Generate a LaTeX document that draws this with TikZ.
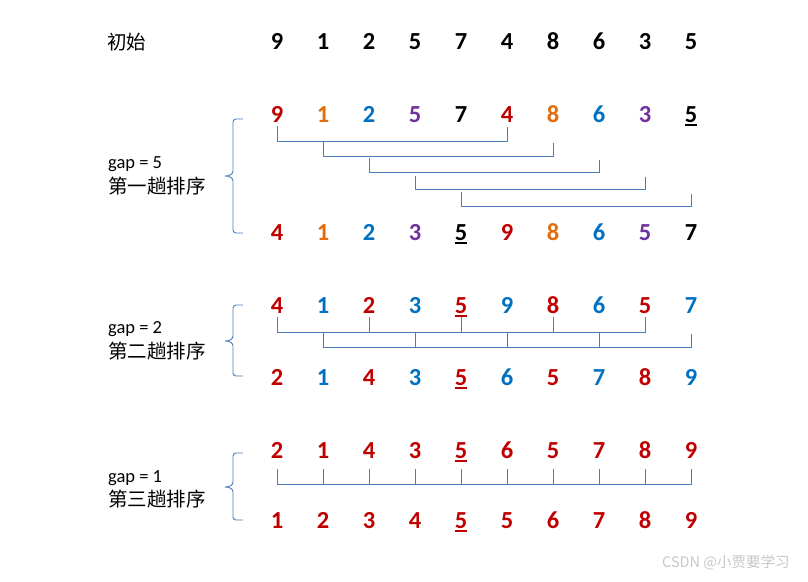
\documentclass[tikz,border=0pt]{standalone}
\usepackage{fontspec}
\setmainfont{Carlito}
\newfontfamily\cjk{Noto Sans CJK SC}
\definecolor{cR}{HTML}{C00000}
\definecolor{cO}{HTML}{E46C0A}
\definecolor{cB}{HTML}{0070C0}
\definecolor{cP}{HTML}{7030A0}
\definecolor{cK}{HTML}{000000}
\definecolor{conncol}{HTML}{4A7EBB}
\tikzset{
  dig/.style={anchor=base, inner sep=0pt, font=\bfseries\fontsize{24.5}{24.5}\selectfont},
  cjklab/.style={anchor=west, inner sep=0pt, font=\cjk\fontsize{19.5}{19.5}\selectfont},
  gaplab/.style={anchor=base west, inner sep=0pt, font=\fontsize{18.5}{18.5}\selectfont},
  conn/.style={draw=conncol, line width=0.9pt},
  brace/.style={draw=conncol, line width=0.9pt},
  ul/.style={line width=1.8pt},
}
\begin{document}
\begin{tikzpicture}[x=1pt,y=-1pt]
\useasboundingbox (0,0) rectangle (808,581);
% rows of digits
\foreach \d/\c [count=\i from 0] in {9/K,1/K,2/K,5/K,7/K,4/K,8/K,6/K,3/K,5/K}
  \node[dig, text=c\c] (r0c\i) at (277+46*\i,49.5) {\d};
\foreach \d/\c [count=\i from 0] in {9/R,1/O,2/B,5/P,7/K,4/R,8/O,6/B,3/P,5/K}
  \node[dig, text=c\c] (r1c\i) at (277+46*\i,122) {\d};
\foreach \d/\c [count=\i from 0] in {4/R,1/O,2/B,3/P,5/K,9/R,8/O,6/B,5/P,7/K}
  \node[dig, text=c\c] (r2c\i) at (277+46*\i,240) {\d};
\foreach \d/\c [count=\i from 0] in {4/R,1/B,2/R,3/B,5/R,9/B,8/R,6/B,5/R,7/B}
  \node[dig, text=c\c] (r3c\i) at (277+46*\i,313) {\d};
\foreach \d/\c [count=\i from 0] in {2/R,1/B,4/R,3/B,5/R,6/B,5/R,7/B,8/R,9/B}
  \node[dig, text=c\c] (r4c\i) at (277+46*\i,385) {\d};
\foreach \d/\c [count=\i from 0] in {2/R,1/R,4/R,3/R,5/R,6/R,5/R,7/R,8/R,9/R}
  \node[dig, text=c\c] (r5c\i) at (277+46*\i,458) {\d};
\foreach \d/\c [count=\i from 0] in {1/R,2/R,3/R,4/R,5/R,5/R,6/R,7/R,8/R,9/R}
  \node[dig, text=c\c] (r6c\i) at (277+46*\i,528) {\d};
% underlines
\draw[ul, cK] ([yshift=-3pt]r1c9.base west) -- ([yshift=-3pt]r1c9.base east);
\draw[ul, cK] ([yshift=-3pt]r2c4.base west) -- ([yshift=-3pt]r2c4.base east);
\draw[ul, cR] ([yshift=-3pt]r3c4.base west) -- ([yshift=-3pt]r3c4.base east);
\draw[ul, cR] ([yshift=-3pt]r4c4.base west) -- ([yshift=-3pt]r4c4.base east);
\draw[ul, cR] ([yshift=-3pt]r5c4.base west) -- ([yshift=-3pt]r5c4.base east);
\draw[ul, cR] ([yshift=-3pt]r6c4.base west) -- ([yshift=-3pt]r6c4.base east);
% labels
\node[cjklab] (lab0) at (107,42) {初始};
\node[gaplab] (gap5) at (108,168) {gap = 5};
\node[cjklab] (pass1) at (108,186.5) {第一趟排序};
\node[gaplab] (gap2) at (108,333.5) {gap = 2};
\node[cjklab] (pass2) at (108,351.5) {第二趟排序};
\node[gaplab] (gap1) at (108,482) {gap = 1};
\node[cjklab] (pass3) at (108,499) {第三趟排序};
% gap 5 connectors
\draw[conn] (r1c0 |- 0,126) |- (r1c5 |- 0,141) -- (r1c5 |- 0,127);
\draw[conn] (r1c1 |- 0,141.5) |- (r1c6 |- 0,156) -- (r1c6 |- 0,143);
\draw[conn] (r1c2 |- 0,158) |- (r1c7 |- 0,172) -- (r1c7 |- 0,160);
\draw[conn] (r1c3 |- 0,176) |- (r1c8 |- 0,189) -- (r1c8 |- 0,177);
\draw[conn] (r1c4 |- 0,192) |- (r1c9 |- 0,206) -- (r1c9 |- 0,194);
% gap 2 connectors
\draw[conn] (r3c0 |- 0,317) |- (r3c8 |- 0,332) -- (r3c8 |- 0,317);
\foreach \i in {2,4,6}
  \draw[conn] (r3c\i |- 0,317) -- (r3c\i |- 0,332);
\draw[conn] (r3c1 |- 0,332) |- (r3c9 |- 0,347) -- (r3c9 |- 0,334);
\foreach \i in {3,5,7}
  \draw[conn] (r3c\i |- 0,332) -- (r3c\i |- 0,347);
% gap 1 connectors
\draw[conn] (r5c0 |- 0,469) |- (r5c9 |- 0,484) -- (r5c9 |- 0,469);
\foreach \i in {1,...,8}
  \draw[conn] (r5c\i |- 0,469) -- (r5c\i |- 0,484);
% braces
\draw[brace] (243,119) -- (236,119) to[out=180,in=90] (233,122) -- (233,171)
  to[out=-90,in=0] (225,176) to[out=0,in=90] (233,181) -- (233,230)
  to[out=-90,in=180] (236,233) -- (243,233);
\draw[brace] (243,305) -- (236,305) to[out=180,in=90] (233,308) -- (233,336)
  to[out=-90,in=0] (225,341) to[out=0,in=90] (233,346) -- (233,373)
  to[out=-90,in=180] (236,376) -- (243,376);
\draw[brace] (243,453) -- (236,453) to[out=180,in=90] (233,456) -- (233,482)
  to[out=-90,in=0] (225,487) to[out=0,in=90] (233,492) -- (233,517)
  to[out=-90,in=180] (236,520) -- (243,520);
% watermark
\node[anchor=base west, inner sep=0pt, text=black!22, font=\cjk\fontsize{14.5}{14.5}\selectfont] (wm) at (662,567) {CSDN @小贾要学习};
\end{tikzpicture}
\end{document}
